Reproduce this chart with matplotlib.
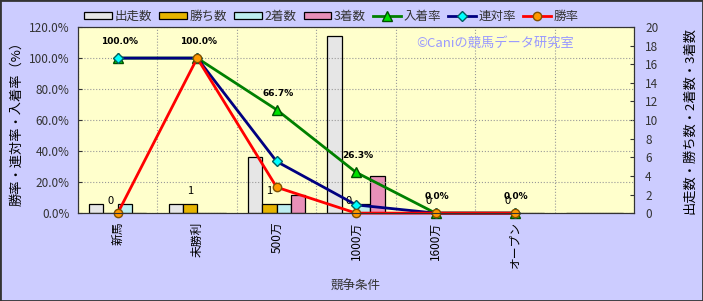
import numpy as np
import matplotlib
matplotlib.use("Agg")
from matplotlib import pyplot as plt
from matplotlib.ticker import FuncFormatter, MultipleLocator

plt.rcParams['font.family'] = ['Noto Sans CJK JP', 'DejaVu Sans']

# データ
categories = ['新馬', '未勝利', '500万', '1000万', '1600万', 'オープン', '']
runs = [1, 1, 6, 19, 0, 0, 0]
wins = [0, 1, 1, 0, 0, 0, 0]
seconds = [1, 0, 1, 1, 0, 0, 0]
thirds = [0, 0, 2, 4, 0, 0, 0]
win_rate = [0.0, 100.0, 16.7, 0.0, 0.0, 0.0]
rentai_rate = [100.0, 100.0, 33.3, 5.3, 0.0, 0.0]
place_rate = [100.0, 100.0, 66.7, 26.3, 0.0, 0.0]
place_labels = ['100.0%', '100.0%', '66.7%', '26.3%', '0.0%', '0.0%']

BG = '#ccccff'
PLOT_BG = '#ffffcc'

fig = plt.figure(figsize=(7.03, 3.01), dpi=100, facecolor=BG)
ax = fig.add_axes([0.111, 0.292, 0.791, 0.618])
ax2 = ax.twinx()

# 棒グラフは右軸、折れ線は左軸 (折れ線を上に描く)
ax.set_zorder(ax2.get_zorder() + 1)
ax.patch.set_visible(False)
ax2.patch.set_facecolor(PLOT_BG)
ax2.patch.set_visible(True)

x = np.arange(len(categories))
w = 0.18
bar_specs = [
    (runs, '#e6e6e6', '出走数'),
    (wins, '#e6b400', '勝ち数'),
    (seconds, '#bdeef0', '2着数'),
    (thirds, '#e890b8', '3着数'),
]
bar_handles = []
for i, (vals, col, lab) in enumerate(bar_specs):
    b = ax2.bar(x + (i - 1.5) * w, vals, w, color=col, edgecolor='black',
                linewidth=0.9, label=lab)
    bar_handles.append(b)

# 勝ち数のラベル
for xi, v in zip(x[:6], wins[:6]):
    ax2.annotate(str(v), (xi - 0.5 * w, v), xytext=(0, 9), textcoords='offset points',
                 ha='center', va='center', fontsize=8, color='black')

xl = x[:6]
l1, = ax.plot(xl, place_rate, color='#008000', lw=2, marker='^', ms=7,
              mfc='#00e000', mec='#005000', label='入着率', clip_on=False)
l2, = ax.plot(xl, rentai_rate, color='#000080', lw=2, marker='D', ms=5,
              mfc='#00ffff', mec='#006060', label='連対率', clip_on=False)
l3, = ax.plot(xl, win_rate, color='#ff0000', lw=2, marker='o', ms=6,
              mfc='#ff9900', mec='#805000', label='勝率', clip_on=False)

for xi, v, s in zip(xl, place_rate, place_labels):
    ax.annotate(s, (xi, v), xytext=(1, 12), textcoords='offset points',
                ha='center', va='center', fontsize=6.5, fontweight='bold',
                family='DejaVu Sans')

ax.set_xlim(-0.5, 6.5)
ax.set_ylim(0, 120)
ax2.set_ylim(0, 20)
ax.yaxis.set_major_locator(MultipleLocator(20))
ax.yaxis.set_major_formatter(FuncFormatter(lambda v, p: f'{v:.1f}%'))
ax2.yaxis.set_major_locator(MultipleLocator(2))

ax.set_xticks(x)
ax.set_xticklabels(categories, rotation=90, fontsize=8.5)
ax.set_xticks(np.arange(-0.5, 7, 1), minor=True)
ax.tick_params(axis='x', which='both', length=0, pad=6)
ax.tick_params(axis='y', labelsize=8.5, colors='#333333', length=3, direction='in', pad=6)
ax2.tick_params(axis='y', labelsize=8.5, colors='#333333', length=3, direction='in', pad=8)

ax.grid(True, axis='y', which='major', linestyle=':', color='#999999', lw=0.8)
ax.grid(True, axis='x', which='minor', linestyle=':', color='#999999', lw=0.8)

for a in (ax, ax2):
    for sp in a.spines.values():
        sp.set_color('#333333')
        sp.set_linewidth(0.8)

ax.set_ylabel('勝率・連対率・入着率（%）', fontsize=9.5, labelpad=4)
ax2.set_ylabel('出走数・勝ち数・2着数・3着数', fontsize=9.5, rotation=90, labelpad=18)
ax.set_xlabel('競争条件', fontsize=9, color='#333333', labelpad=8)

ax.text(0.75, 0.91, '©Caniの競馬データ研究室', transform=ax.transAxes,
        ha='center', va='center', fontsize=9.5, color='#9999ff',
        family=['Noto Sans CJK JP', 'DejaVu Sans'])

handles = bar_handles + [l1, l2, l3]
labels = ['出走数', '勝ち数', '2着数', '3着数', '入着率', '連対率', '勝率']
leg = ax.legend(handles, labels, loc='lower left', bbox_to_anchor=(0.0, 0.99),
                ncol=7, frameon=False, fontsize=9, handlelength=2.2,
                handleheight=0.5, handletextpad=0.2, columnspacing=0.6,
                borderaxespad=0.1)
for t in leg.get_texts():
    t.set_color('#333333')

fig.patches.append(plt.Rectangle((0, 0), 1, 1, transform=fig.transFigure,
                                 fill=False, edgecolor='#333333', lw=2))

fig.savefig('out.png', dpi=100, facecolor=BG)
